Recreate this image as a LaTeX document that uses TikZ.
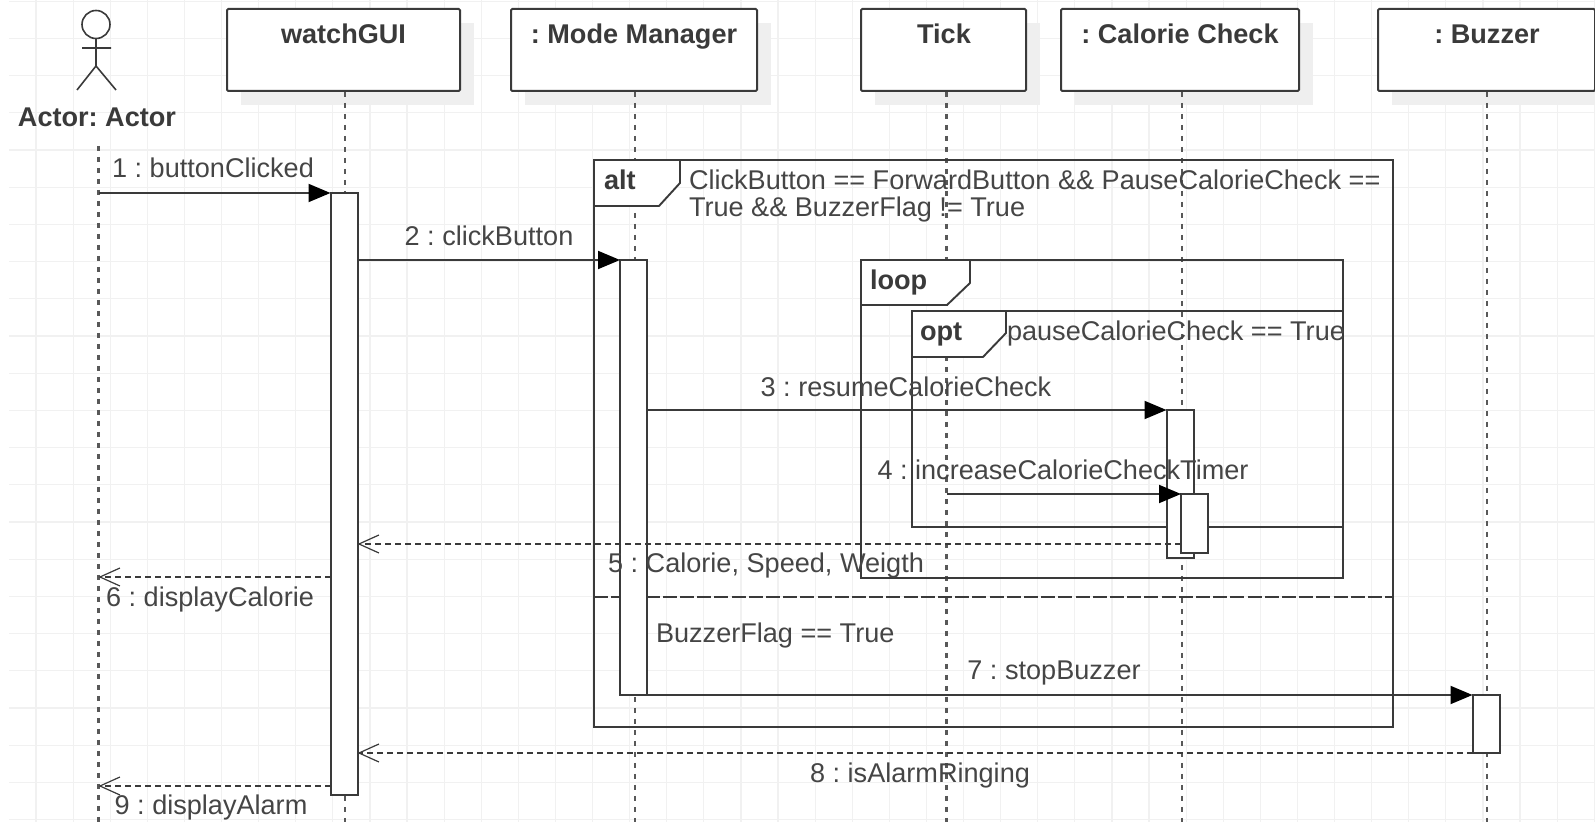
\documentclass[tikz,border=0pt]{standalone}
\usepackage{fontspec}
\setmainfont{Liberation Sans}
\usetikzlibrary{arrows.meta}
\frenchspacing
\definecolor{ink}{HTML}{3A3A3A}
\definecolor{txtc}{HTML}{454545}
\definecolor{gridc}{HTML}{F1F1F1}
\definecolor{shadowc}{HTML}{EFEFEF}
\tikzset{
  gridline/.style={draw=gridc,line width=.6pt},
  txt/.style={anchor=base,inner sep=0pt,outer sep=0pt,text=txtc,font=\fontsize{13.55}{16}\selectfont},
  txtl/.style={txt,anchor=base west},
  btxt/.style={txtl,text=ink,font=\fontsize{13.55}{16}\selectfont\bfseries},
  headtxt/.style={btxt,anchor=base},
  lifebox/.style={draw=ink,fill=white,line width=1pt,rounded corners=.6pt,inner sep=0pt,outer sep=0pt},
  shadowbox/.style={fill=shadowc,inner sep=0pt,outer sep=0pt},
  act/.style={draw=ink,fill=white,line width=1pt,inner sep=0pt,outer sep=0pt,minimum width=13.5pt},
  lifeline/.style={draw=ink!85,line width=1.05pt,dash pattern=on 2.6pt off 2.9pt},
  frame/.style={draw=ink,line width=.95pt,inner sep=0pt,outer sep=0pt},
  tab/.style={draw=ink,fill=white,line width=.95pt,line join=round},
  msg/.style={draw=ink,line width=.95pt,-{Triangle[length=11pt,width=9pt,color=black]}},
  ret/.style={draw=ink,line width=.8pt,dash pattern=on 3pt off 2pt,-{Straight Barb[length=10pt,width=9pt,line width=.6pt,color=ink]}},
  divider/.style={draw=ink,line width=1pt,dash pattern=on 7pt off 1.6pt},
  actorline/.style={draw=ink,line width=.8pt}
}
\begin{document}
\begin{tikzpicture}[x=.5pt,y=-.5pt]
\useasboundingbox (0,0) rectangle (1595,822);
\clip (0,0) rectangle (1595,822);
% grid
\foreach \k in {0,...,42} {\draw[gridline] ({36+37.1*\k},0) -- ({36+37.1*\k},822);}
\foreach \k in {0,...,22} {\draw[gridline] (9,{1.2+37.2*\k}) -- (1595,{1.2+37.2*\k});}
% shadows
\node[shadowbox,minimum width=116.5pt,minimum height=41pt] (sW) at (357.5,64) {};
\node[shadowbox,minimum width=123pt,minimum height=41pt] (sM) at (648,64) {};
\node[shadowbox,minimum width=82.5pt,minimum height=41pt] (sT) at (957.5,64) {};
\node[shadowbox,minimum width=119pt,minimum height=41pt] (sC) at (1194,64) {};
\node[shadowbox,minimum width=108.5pt,minimum height=41pt] (sB) at (1500.5,64) {};
% lifeline heads
\node[lifebox,minimum width=116.5pt,minimum height=41pt] (bW) at (343.5,50) {};
\node[lifebox,minimum width=123pt,minimum height=41pt] (bM) at (634,50) {};
\node[lifebox,minimum width=82.5pt,minimum height=41pt] (bT) at (943.5,50) {};
\node[lifebox,minimum width=119pt,minimum height=41pt] (bC) at (1180,50) {};
\node[lifebox,minimum width=108.5pt,minimum height=41pt] (bB) at (1486.5,50) {};
\node[headtxt] (tW) at (343.5,44) {watchGUI};
\node[headtxt] (tM) at (634,44) {: Mode Manager};
\node[headtxt] (tT) at (944,44) {Tick};
\node[headtxt] (tC) at (1180,44) {: Calorie Check};
\node[headtxt] (tB) at (1487,44) {: Buzzer};
% lifeline anchors
\coordinate (lA0) at (98.5,146);
\coordinate (lA1) at (98.5,822);
\coordinate (lW0) at (345,92);
\coordinate (lW1) at (345,822);
\coordinate (lM0) at (635,92);
\coordinate (lM1) at (635,822);
\coordinate (lT0) at (946.5,92);
\coordinate (lT1) at (946.5,822);
\coordinate (lC0) at (1182,92);
\coordinate (lC1) at (1182,822);
\coordinate (lB0) at (1487,92);
\coordinate (lB1) at (1487,822);
\draw[lifeline] (lA0) -- (lA1);
\draw[lifeline] (lW0) -- (lW1);
\draw[lifeline] (lM0) -- (lM1);
\draw[lifeline] (lT0) -- (lT1);
\draw[lifeline] (lC0) -- (lC1);
\draw[lifeline] (lB0) -- (lB1);
% actor
\draw[actorline] (96,24.5) circle[radius=14];
\draw[actorline] (96,38.5) -- (96,66) (82,48) -- (111,48) (77,90) -- (96,66) -- (116,90);
\node[headtxt] (tA) at (97,127) {Actor: Actor};
% frames
\node[frame,minimum width=399.5pt,minimum height=283.5pt] (fAlt) at (993.5,443.5) {};
\draw[tab] (fAlt.north west) -- (680,160) -- (680,183) -- (659,206) -- (594,206) -- cycle;
\draw[divider] (594,597) -- (1393,597);
\node[frame,minimum width=241pt,minimum height=159pt] (fLoop) at (1102,419) {};
\draw[tab] (fLoop.north west) -- (970,260) -- (970,283) -- (947,305) -- (861,305) -- cycle;
\node[frame,minimum width=215.5pt,minimum height=108pt] (fOpt) at (1127.5,419) {};
\draw[tab] (fOpt.north west) -- (1006,311) -- (1006,333) -- (983,357) -- (912,357) -- cycle;
\node[btxt] (lAlt) at (604,190) {alt};
\node[btxt] (lLoop) at (870,290) {loop};
\node[btxt] (lOpt) at (920,341) {opt};
\node[txtl] (cAlt1) at (689,190) {ClickButton == ForwardButton \&\& PauseCalorieCheck ==};
\node[txtl] (cAlt2) at (689,217) {True \&\& BuzzerFlag != True};
\node[txtl] (cOpt) at (1007,341) {pauseCalorieCheck == True};
\node[txtl] (cElse) at (656,643) {BuzzerFlag == True};
% activations
\node[act,minimum height=301pt] (aW) at (344,494) {};
\node[act,minimum height=217.5pt] (aM) at (633.5,477.5) {};
\node[act,minimum height=74pt] (aC1) at (1180,484) {};
\node[act,minimum height=29.5pt] (aC2) at (1194.5,523.5) {};
\node[act,minimum height=29pt] (aB) at (1486,724) {};
% message anchors
\coordinate (m1s) at (lA0 |- aW.north);
\coordinate (m2s) at (aW.east |- aM.north);
\coordinate (m3s) at (aM.east |- aC1.north);
\coordinate (m4s) at (lT0 |- aC2.north);
\coordinate (m5y) at (0,544);
\coordinate (m6y) at (0,577);
\coordinate (m9y) at (0,786);
% messages
\draw[msg] (m1s) -- (aW.north west);
\draw[msg] (m2s) -- (aM.north west);
\draw[msg] (m3s) -- (aC1.north west);
\draw[msg] (m4s) -- (aC2.north west);
\draw[ret] (aC2.west |- m5y) -- (aW.east |- m5y);
\draw[ret] (aW.west |- m6y) -- (lA0 |- m6y);
\draw[msg] (aM.south east) -- (aB.north west);
\draw[ret] (aB.south west) -- (aW.east |- aB.south);
\draw[ret] (aW.west |- m9y) -- (lA0 |- m9y);
% message labels
\node[txt] (t1) at (213,178) {1 : buttonClicked};
\node[txt] (t2) at (489,246) {2 : clickButton};
\node[txt] (t3) at (906,397) {3 : resumeCalorieCheck};
\node[txt] (t4) at (1063,480) {4 : increaseCalorieCheckTimer};
\node[txt] (t5) at (766,573) {5 : Calorie, Speed, Weigth};
\node[txt] (t6) at (210,607) {6 : displayCalorie};
\node[txt] (t7) at (1054,680) {7 : stopBuzzer};
\node[txt] (t8) at (920,782) {8 : isAlarmRinging};
\node[txt] (t9) at (211,814) {9 : displayAlarm};
\end{tikzpicture}
\end{document}
